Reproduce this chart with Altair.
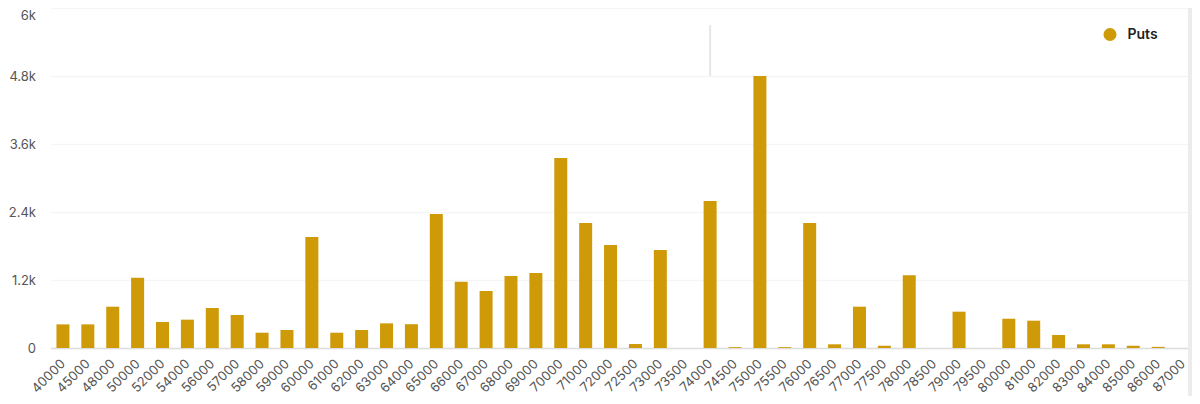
import altair as alt
import pandas as pd

strikes = [
    '40000', '45000', '48000', '50000', '52000', '54000', '56000', '57000', '58000', '59000',
    '60000', '61000', '62000', '63000', '64000', '65000', '66000', '67000', '68000', '69000',
    '70000', '71000', '72000', '72500', '73000', '73500', '74000', '74500', '75000', '75500',
    '76000', '76500', '77000', '77500', '78000', '78500', '79000', '79500', '80000', '81000',
    '82000', '83000', '84000', '85000', '86000', '87000',
]
puts = [
    417, 417, 729, 1240, 459, 500, 706, 582, 270, 318,
    1960, 270, 318, 435, 420, 2365, 1170, 1006, 1270, 1324,
    3353, 2206, 1818, 70, 1730, 0, 2595, 15, 4800, 15,
    2206, 65, 729, 40, 1282, 0, 641, 0, 517, 482,
    229, 65, 65, 40, 20, 0,
]
y_ticks = [0, 1200, 2400, 3600, 4800, 6000]

# short marker line above the 74000 strike
marker_strike = ['74000']
marker_low = [4800]
marker_high = [5700]

df = pd.DataFrame({'Strike': strikes, 'Value': puts, 'Type': 'Puts'})
marker = pd.DataFrame({'Strike': marker_strike, 'Low': marker_low, 'High': marker_high})

# the band range runs past the plot's right edge, as the reference is cropped there
x_scale = alt.Scale(paddingInner=0.48, paddingOuter=0.24, range=[0, 1145])

x_axis = alt.Axis(
    labelAngle=315,
    labelFontSize=13,
    labelColor='#555555',
    labelPadding=9,
    labelOffset=-4,
    ticks=False,
    domainColor='#dddddd',
    domainWidth=1.5,
    grid=False,
)
y_axis = alt.Axis(
    values=y_ticks,
    labelExpr="datum.value == 0 ? '0' : format(datum.value, '~s')",
    labelFontSize=13,
    labelColor='#555555',
    labelPadding=15,
    labelBaseline={
        'condition': {'test': 'datum.value == 6000', 'value': 'line-top'},
        'value': 'middle',
    },
    ticks=False,
    domain=False,
    gridColor='#f5f5f5',
    gridWidth=1.5,
)

bars = (
    alt.Chart(df)
    .mark_bar(size=13)
    .encode(
        x=alt.X('Strike:N', sort=strikes, title=None, scale=x_scale, axis=x_axis),
        y=alt.Y('Value:Q', title=None, scale=alt.Scale(domain=[0, 6000]), axis=y_axis),
        color=alt.Color(
            'Type:N',
            title=None,
            scale=alt.Scale(domain=['Puts'], range=['#cf9a08']),
            legend=alt.Legend(
                orient='none',
                legendX=1052,
                legendY=19,
                symbolType='circle',
                symbolSize=170,
                labelFontSize=14,
                labelFontWeight=600,
                labelColor='#222222',
                labelOffset=10,
            ),
        ),
    )
)

marker_line = (
    alt.Chart(marker)
    .mark_rule(color='#e6e6e6', strokeWidth=2)
    .encode(
        x=alt.X('Strike:N', sort=strikes, title=None, scale=x_scale, axis=x_axis),
        y=alt.Y('Low:Q', title=None, axis=y_axis),
        y2='High:Q',
    )
)

# grey strip down the right edge of the screenshot
edge_strip = (
    alt.Chart(pd.DataFrame({'Strike': ['87000']}))
    .mark_rect(color='#ececec')
    .encode(
        x=alt.value(1137.5),
        x2=alt.value(1142),
        y=alt.value(0),
        y2=alt.value(388),
    )
)

chart = (
    alt.layer(bars, marker_line, edge_strip)
    .properties(
        width=1141.5,
        height=340,
        autosize=alt.AutoSizeParams(type='none'),
        padding={'left': 42.5, 'top': 0, 'right': 0, 'bottom': 48},
        background='white',
    )
    .configure(font='Inter')
    .configure_view(strokeWidth=0)
)

chart.save("out.html", embed_options={"renderer": "svg", "actions": False})
